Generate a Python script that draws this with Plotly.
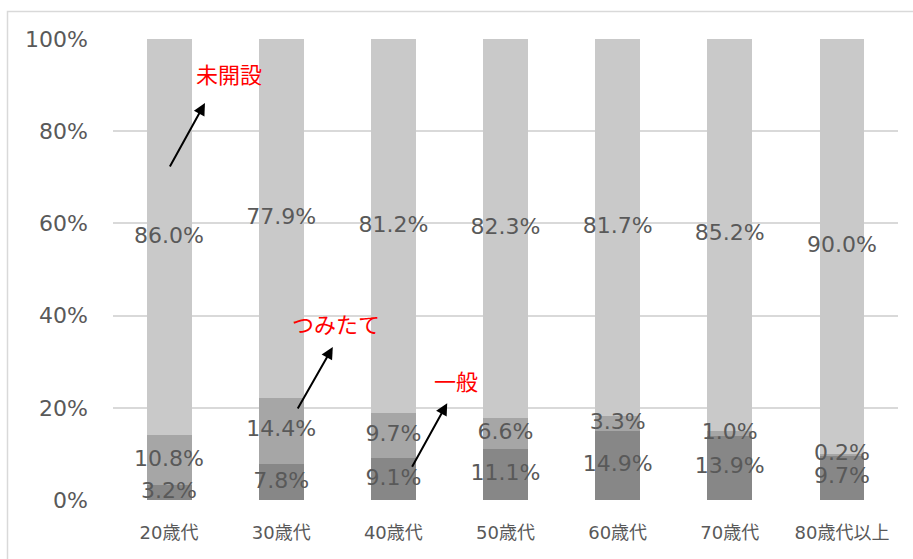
import plotly.graph_objects as go
import numpy as np

categories = ["20歳代", "30歳代", "40歳代", "50歳代", "60歳代", "70歳代", "80歳代以上"]
ippan = [3.2, 7.8, 9.1, 11.1, 14.9, 13.9, 9.7]          # 一般
tsumitate = [10.8, 14.4, 9.7, 6.6, 3.3, 1.0, 0.2]      # つみたて
mikaisetsu = [86.0, 77.9, 81.2, 82.3, 81.7, 85.2, 90.0]  # 未開設
y_ticks = [0, 20, 40, 60, 80, 100]
y_ticklabels = ["0%", "20%", "40%", "60%", "80%", "100%"]

FONT = "DejaVu Sans, Noto Sans CJK JP"
CJK = "Noto Sans CJK JP"
TXT = "#595959"
x = list(range(len(categories)))

series = [("一般", ippan, "#878787"), ("つみたて", tsumitate, "#a6a6a6"), ("未開設", mikaisetsu, "#c9c9c9")]

fig = go.Figure()
for name, vals, col in series:
    fig.add_trace(go.Bar(x=x, y=vals, name=name, marker=dict(color=col, line=dict(width=0)),
                         width=0.4, hoverinfo="skip"))

# labels centred in segments
base = np.zeros(len(categories))
for name, vals, col in series:
    v = np.array(vals)
    mid = base + v / 2
    fig.add_trace(go.Scatter(x=x, y=mid, mode="text", text=[f"{t:.1f}%" for t in vals],
                             textfont=dict(family=FONT, size=22, color=TXT), showlegend=False,
                             hoverinfo="skip"))
    base = base + v

annots = [
    dict(label="未開設", tx=0.53, ty=92.6, x0=0.0, y0=72.0, x1=0.32, y1=86.1),
    dict(label="つみたて", tx=1.49, ty=38.4, x0=1.14, y0=19.5, x1=1.46, y1=33.2),
    dict(label="一般", tx=2.56, ty=26.0, x0=2.16, y0=6.9, x1=2.48, y1=21.0),
]
for a in annots:
    fig.add_annotation(x=a["tx"], y=a["ty"], xref="x", yref="y", text=a["label"], showarrow=False,
                       font=dict(family=CJK, size=22, color="#ff0000"))
    fig.add_annotation(x=a["x1"], y=a["y1"], ax=a["x0"], ay=a["y0"], xref="x", yref="y",
                       axref="x", ayref="y", text="", showarrow=True, arrowhead=2, arrowsize=1.2,
                       arrowwidth=2, arrowcolor="#000000")

# outer frame
W, H = 913, 559
L, R, T, B = 113, 15, 39, 59
pw, ph = W - L - R, H - T - B
def px(xp): return (xp - L) / pw
def py(yp): return (H - B - yp) / ph
fig.add_shape(type="rect", xref="paper", yref="paper", x0=px(7.5), x1=px(925), y0=py(575), y1=py(11.5),
              line=dict(color="#d9d9d9", width=1.5), fillcolor="rgba(0,0,0,0)", layer="below")

fig.update_layout(
    width=W, height=H, barmode="stack", bargap=0.6,
    margin=dict(l=L, r=R, t=T, b=B),
    plot_bgcolor="white", paper_bgcolor="white", showlegend=False,
    font=dict(family=FONT, color=TXT),
)
fig.update_xaxes(tickmode="array", tickvals=x, ticktext=categories, range=[-0.5, 6.5],
                 tickfont=dict(family=FONT, size=18, color=TXT), showgrid=False, zeroline=False,
                 showline=False, ticks="", ticklabelstandoff=20)
fig.update_yaxes(tickmode="array", tickvals=y_ticks, ticktext=y_ticklabels, range=[0, 100],
                 tickfont=dict(family=FONT, size=22, color=TXT), gridcolor="#d9d9d9", gridwidth=1.5,
                 zeroline=False, showline=False, ticks="", ticklabelstandoff=24)

fig.write_html("out.html")
